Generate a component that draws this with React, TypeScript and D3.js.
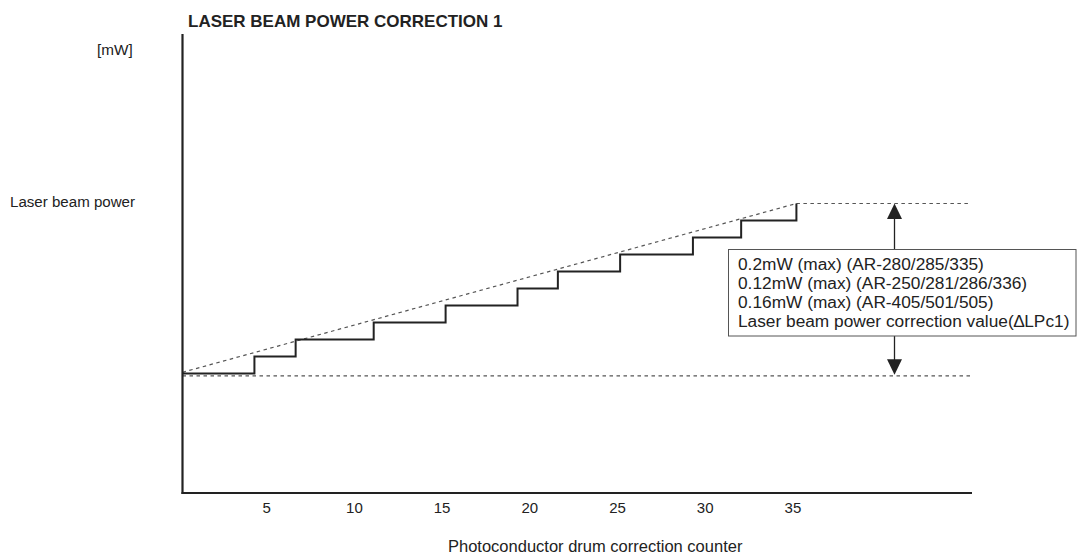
import React from "react";
import * as d3 from "d3";

// Data
const stepStarts = [0.2, 4.3, 6.65, 11.1, 15.2, 19.3, 21.6, 25.15, 29.3, 32.05, 35.2];
const stepLevels = [0, 0.02, 0.04, 0.06, 0.08, 0.1, 0.12, 0.14, 0.16, 0.18, 0.2];
const xTicks = [5, 10, 15, 20, 25, 30, 35];
const boxLines = [
  "0.2mW (max) (AR-280/285/335)",
  "0.12mW (max) (AR-250/281/286/336)",
  "0.16mW (max) (AR-405/501/505)",
  "Laser beam power correction value(\u2206LPc1)",
];
const title = "LASER BEAM POWER CORRECTION 1";
const yUnit = "[mW]";
const yLabel = "Laser beam power";
const xLabel = "Photoconductor drum correction counter";

const W = 1077;
const H = 554;
const FONT = "'Liberation Sans', Arial, Helvetica, sans-serif";

export default function App() {
  const x = d3.scaleLinear().domain([0, 45]).range([179, 179 + 45 * 17.54]);
  const y = d3.scaleLinear().domain([0, 0.2]).range([373.5, 203.5]);

  const axisLeft = 182.5;
  const axisBottom = 493;
  const axisRight = 972;
  const axisTop = 34;
  const dotEnd = 970;

  const pts: [number, number][] = stepStarts.map((c, i) => [c, stepLevels[i]]);
  const stepPath = d3
    .line<[number, number]>()
    .x((d) => x(d[0]))
    .y((d) => y(d[1]))
    .curve(d3.curveStepAfter)(pts) as string;

  const first = pts[0];
  const last = pts[pts.length - 1];
  const arrowX = 894.5;
  const topY = y(last[1]);
  const baseY = y(0) + 2.3;

  const box = { x: 728.5, y: 249.5, w: 347.5, h: 86.5 };

  return (
    <svg
      width={W}
      height={H}
      style={{ position: "absolute", left: 0, top: 0, background: "#fff" }}
      fontFamily={FONT}
    >
      <rect x={0} y={0} width={W} height={H} fill="#fff" />
      {/* title */}
      <text x={188} y={26.5} fontSize={17} fontWeight="bold" fill="#222">
        {title}
      </text>
      {/* y labels */}
      <text x={97} y={55} fontSize={15.3} fill="#222">
        {yUnit}
      </text>
      <text x={10} y={207} fontSize={15.1} fill="#222">
        {yLabel}
      </text>

      {/* dotted guide lines */}
      <line x1={axisLeft} x2={dotEnd} y1={baseY} y2={baseY} stroke="#555" strokeWidth={1.2} strokeDasharray="3.5,3.5" />
      <line x1={x(last[0])} x2={dotEnd} y1={topY} y2={topY} stroke="#555" strokeWidth={1.2} strokeDasharray="3.5,3.5" />
      <line
        x1={x(first[0])}
        y1={y(first[1]) - 1.2}
        x2={x(last[0])}
        y2={topY}
        stroke="#555"
        strokeWidth={1.2}
        strokeDasharray="3.5,3.5"
      />

      {/* step line */}
      <path d={stepPath} fill="none" stroke="#222" strokeWidth={2} />

      {/* arrow */}
      <line x1={arrowX} x2={arrowX} y1={topY + 14} y2={baseY - 14} stroke="#222" strokeWidth={1.3} />
      <path d={`M${arrowX},${topY} L${arrowX - 7.5},${topY + 15.5} L${arrowX + 7.5},${topY + 15.5} Z`} fill="#222" />
      <path d={`M${arrowX},${baseY - 1} L${arrowX - 7.5},${baseY - 16.5} L${arrowX + 7.5},${baseY - 16.5} Z`} fill="#222" />

      {/* annotation box */}
      <rect x={box.x} y={box.y} width={box.w} height={box.h} fill="#fff" stroke="#555" strokeWidth={1} />
      {boxLines.map((t, i) => (
        <text key={i} x={738} y={270 + i * 19} fontSize={17.3} fill="#222">
          {t}
        </text>
      ))}

      {/* axes */}
      <line x1={axisLeft} x2={axisLeft} y1={axisTop} y2={axisBottom + 1} stroke="#222" strokeWidth={2.2} />
      <line x1={axisLeft - 1} x2={axisRight} y1={axisBottom} y2={axisBottom} stroke="#222" strokeWidth={2.2} />

      {/* tick labels */}
      {xTicks.map((t) => (
        <text key={t} x={x(t)} y={513} fontSize={15} textAnchor="middle" fill="#222">
          {t}
        </text>
      ))}

      <text x={448} y={552} fontSize={16.5} fill="#222">
        {xLabel}
      </text>
    </svg>
  );
}
